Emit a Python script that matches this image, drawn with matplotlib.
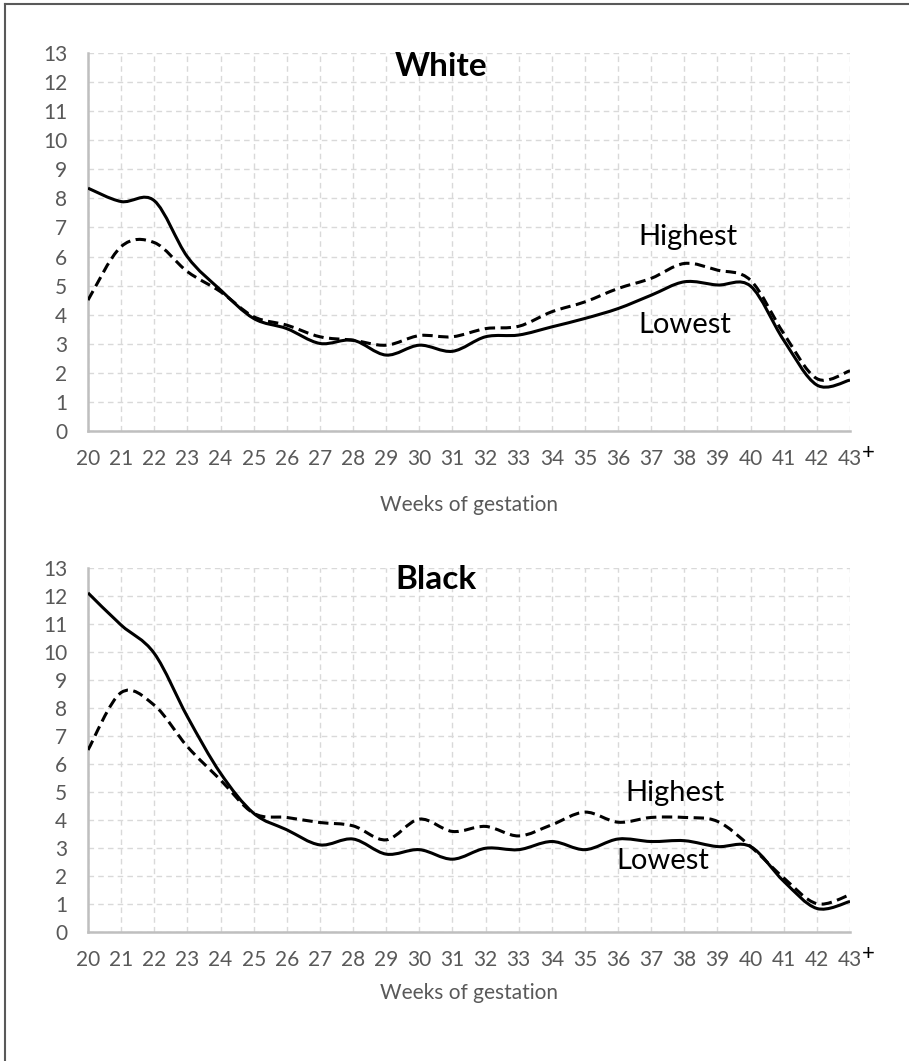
import numpy as np
import matplotlib
matplotlib.use("Agg")
import matplotlib.pyplot as plt
from matplotlib.path import Path
from matplotlib.patches import PathPatch
from matplotlib.lines import Line2D

plt.rcParams['font.family'] = ['Lato', 'DejaVu Sans']

weeks = list(range(20, 44))
week_labels = [str(w) for w in weeks]

# White mothers
white_lowest = [8.35, 7.89, 7.92, 5.99, 4.85, 3.87, 3.52, 3.01, 3.12, 2.61, 2.95, 2.74,
                3.24, 3.30, 3.58, 3.87, 4.21, 4.67, 5.13, 5.02, 4.98, 3.12, 1.58, 1.75]
white_highest = [4.50, 6.34, 6.48, 5.48, 4.79, 3.93, 3.64, 3.24, 3.12, 2.95, 3.28, 3.24,
                 3.52, 3.60, 4.10, 4.44, 4.90, 5.25, 5.76, 5.53, 5.18, 3.35, 1.80, 2.07]

# Black mothers
black_lowest = [12.11, 10.96, 9.95, 7.69, 5.67, 4.24, 3.65, 3.11, 3.32, 2.78, 2.94, 2.60,
                2.99, 2.94, 3.23, 2.94, 3.32, 3.23, 3.26, 3.05, 3.05, 1.81, 0.84, 1.09]
black_highest = [6.50, 8.55, 8.10, 6.62, 5.43, 4.24, 4.09, 3.91, 3.79, 3.29, 4.03, 3.59,
                 3.77, 3.43, 3.83, 4.28, 3.92, 4.09, 4.09, 3.95, 3.05, 1.93, 1.01, 1.33]

grid_col = '#d9d9d9'
spine_col = '#bfbfbf'
text_col = '#595959'


def smooth_line(ax, xs, ys, dashed=False):
    # Bezier curve through every point, like a spreadsheet "smoothed line"
    pts = np.column_stack([xs, ys]).astype(float)
    n = len(pts)
    verts = [pts[0]]
    codes = [Path.MOVETO]
    for i in range(n - 1):
        p0 = pts[max(i - 1, 0)]
        p1 = pts[i]
        p2 = pts[i + 1]
        p3 = pts[min(i + 2, n - 1)]
        c1 = p1 + (p2 - p0) / 6.0
        c2 = p2 - (p3 - p1) / 6.0
        verts += [c1, c2, p2]
        codes += [Path.CURVE4] * 3
    patch = PathPatch(Path(verts, codes), facecolor='none', edgecolor='black',
                      lw=2.2, linestyle=(0, (3.4, 1.8)) if dashed else '-',
                      capstyle='butt', joinstyle='round', zorder=3)
    ax.add_patch(patch)


def panel(ax, title, lowest, highest, title_xy, hi_xy, lo_xy, xlabel_off):
    smooth_line(ax, weeks, highest, dashed=True)
    smooth_line(ax, weeks, lowest)
    ax.set_xlim(20, 43)
    ax.set_ylim(0, 13)
    ax.set_xticks(weeks)
    ax.set_xticklabels(week_labels)
    ax.set_yticks(range(0, 14))
    ax.grid(True, color=grid_col, linestyle=(0, (4, 3)), lw=1.0, zorder=0)
    ax.set_axisbelow(True)
    for s in ['top', 'right']:
        ax.spines[s].set_visible(False)
    for s in ['left', 'bottom']:
        ax.spines[s].set_color(spine_col)
        ax.spines[s].set_linewidth(1.8)
    ax.tick_params(length=0, labelsize=15, colors=text_col)
    ax.tick_params(axis='x', pad=13)
    ax.tick_params(axis='y', pad=15)
    ax.text(*title_xy, title, fontsize=24, fontweight='bold', ha='center', va='center')
    ax.text(*hi_xy, 'Highest', fontsize=21, ha='center', va='center')
    ax.text(*lo_xy, 'Lowest', fontsize=21, ha='center', va='center')
    ax.annotate('+', xy=(43, 0), xytext=(13, -16), textcoords='offset points',
                fontsize=16, ha='center', va='center', color='black')
    ax.annotate('Weeks of gestation', xy=(0.5, 0), xycoords='axes fraction',
                xytext=(0, xlabel_off), textcoords='offset points',
                fontsize=15, color=text_col, ha='center', va='center')


fig = plt.figure(figsize=(9.09, 10.61), dpi=100)

ax1 = fig.add_axes([0.0968, 0.5938, 0.8383, 0.3563])
panel(ax1, 'White', white_lowest, white_highest,
      (30.65, 12.52), (38.1, 6.68), (38.0, 3.64), -53)

ax2 = fig.add_axes([0.0968, 0.1216, 0.8383, 0.3431])
panel(ax2, 'Black', black_lowest, black_highest,
      (30.5, 12.57), (37.72, 4.96), (37.36, 2.52), -44)

# outer frame (left and top edges)
fig.add_artist(Line2D([0.0055, 0.0055], [0.0, 0.9962], color='#595959', lw=1.5))
fig.add_artist(Line2D([0.0055, 1.0], [0.9962, 0.9962], color='#595959', lw=1.5))

fig.savefig('out.png', dpi=100)
